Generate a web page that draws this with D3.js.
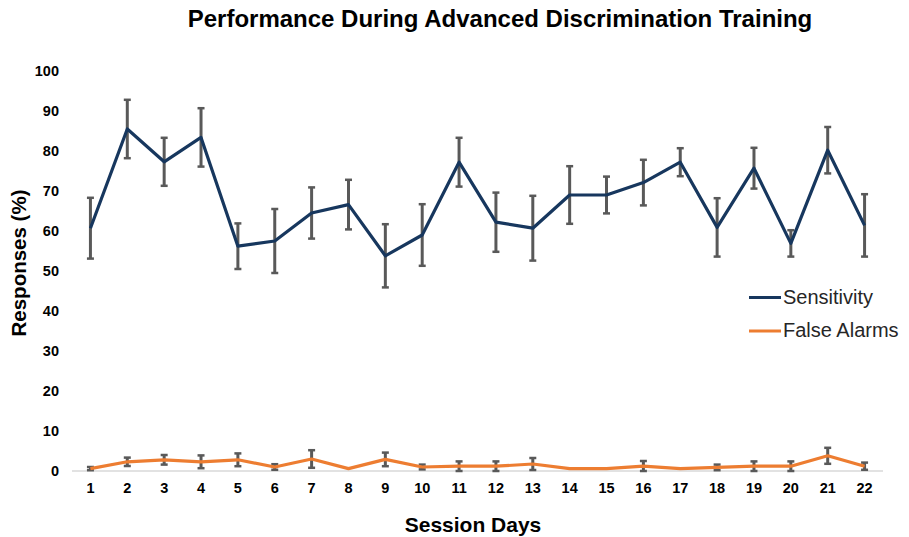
<!DOCTYPE html>
<html>
<head>
<meta charset="utf-8">
<script src="https://cdn.jsdelivr.net/npm/d3@7"></script>
<style>
  body { margin: 0; background: #fff; }
  text { font-family: "Liberation Sans", Arial, sans-serif; }
</style>
</head>
<body>
<div id="chart"></div>
<script>
// DATA
const days = ["1","2","3","4","5","6","7","8","9","10","11","12","13","14","15","16","17","18","19","20","21","22"];
const sensitivity = [60.7, 85.5, 77.3, 83.4, 56.2, 57.5, 64.5, 66.6, 53.8, 59.0, 77.2, 62.2, 60.7, 69.0, 69.0, 72.1, 77.2, 60.9, 75.7, 56.9, 80.2, 61.4];
const sensitivityErr = [7.6, 7.3, 6.0, 7.3, 5.7, 8.0, 6.4, 6.2, 7.9, 7.7, 6.1, 7.4, 8.1, 7.2, 4.6, 5.7, 3.5, 7.3, 5.1, 3.3, 5.8, 7.8];
const falseAlarms = [0.6, 2.3, 2.8, 2.3, 2.8, 1.0, 3.0, 0.6, 2.9, 1.0, 1.2, 1.2, 1.75, 0.6, 0.6, 1.2, 0.6, 0.9, 1.2, 1.2, 3.8, 1.2];
const falseAlarmsErr = [0.4, 1.05, 1.2, 1.6, 1.6, 0.7, 2.2, 0, 1.7, 0.6, 1.2, 1.2, 1.5, 0, 0, 1.3, 0, 0.7, 1.2, 1.2, 2.0, 0.9];
const yTicks = [0, 10, 20, 30, 40, 50, 60, 70, 80, 90, 100];

const W = 909, H = 537;
const margin = {top: 71, right: 26, bottom: 66, left: 72};
const width = W - margin.left - margin.right;
const height = H - margin.top - margin.bottom;

const svg = d3.select("#chart")
    .append("svg")
    .attr("width", W)
    .attr("height", H);

const g = svg.append("g")
    .attr("transform", "translate(" + margin.left + "," + margin.top + ")");

let xScale = d3.scaleBand()
    .domain(days)
    .range([0, width]);

let yScale = d3.scaleLinear()
    .domain([0, 100])
    .range([height, 0]);

// baseline
g.append("line")
    .attr("x1", 0).attr("x2", width)
    .attr("y1", yScale(0)).attr("y2", yScale(0))
    .attr("stroke", "#d9d9d9")
    .attr("stroke-width", 1.3);

// axes
let yAxis = d3.axisLeft(yScale).tickValues(yTicks).tickSize(0).tickPadding(13);
let yG = g.append("g").attr("class", "axis y-axis").call(yAxis);
yG.select(".domain").remove();
yG.selectAll("text")
    .attr("font-size", 14.5)
    .attr("font-weight", "bold")
    .attr("fill", "#000")
    .style("font-family", "'Liberation Sans', Arial, sans-serif");

let xAxis = d3.axisBottom(xScale).tickSize(0).tickPadding(12);
let xG = g.append("g")
    .attr("class", "axis x-axis")
    .attr("transform", `translate(0, ${height})`)
    .call(xAxis);
xG.select(".domain").remove();
xG.selectAll("text")
    .attr("font-size", 14.5)
    .attr("font-weight", "bold")
    .attr("fill", "#000")
    .style("font-family", "'Liberation Sans', Arial, sans-serif");

const xPos = d => xScale(d) + xScale.bandwidth() / 2;

function drawSeries(vals, errs, color) {
    const pts = days.map((d, i) => ({day: d, v: vals[i], e: errs[i]}));

    // error bars
    const eb = g.append("g");
    pts.forEach(p => {
        const lo = Math.max(0, p.v - p.e), hi = p.v + p.e;
        if (p.e <= 0) return;
        const x = xPos(p.day);
        eb.append("line")
            .attr("x1", x).attr("x2", x)
            .attr("y1", yScale(hi)).attr("y2", yScale(lo))
            .attr("stroke", "#595959").attr("stroke-width", 3);
        [hi, lo].forEach(v => {
            eb.append("line")
                .attr("x1", x - 3.5).attr("x2", x + 3.5)
                .attr("y1", yScale(v)).attr("y2", yScale(v))
                .attr("stroke", "#595959").attr("stroke-width", 2.5);
        });
    });

    const line = d3.line()
        .x(p => xPos(p.day))
        .y(p => yScale(p.v));

    g.append("path")
        .datum(pts)
        .attr("d", line)
        .attr("fill", "none")
        .attr("stroke", color)
        .attr("stroke-width", 3.2)
        .attr("stroke-linejoin", "round");
}

drawSeries(sensitivity, sensitivityErr, "#17375e");
drawSeries(falseAlarms, falseAlarmsErr, "#ed7d31");

// title
svg.append("text")
    .attr("x", 500).attr("y", 27)
    .attr("text-anchor", "middle")
    .attr("font-size", 24)
    .attr("font-weight", "bold")
    .text("Performance During Advanced Discrimination Training");

// axis titles
svg.append("text")
    .attr("x", 473).attr("y", 532)
    .attr("text-anchor", "middle")
    .attr("font-size", 21)
    .attr("font-weight", "bold")
    .text("Session Days");

svg.append("text")
    .attr("transform", "translate(26, 263) rotate(-90)")
    .attr("text-anchor", "middle")
    .attr("font-size", 20.5)
    .attr("font-weight", "bold")
    .text("Responses (%)");

// legend
const legend = [["Sensitivity", "#17375e"], ["False Alarms", "#ed7d31"]];
legend.forEach((l, i) => {
    const y = 297.5 + i * 33.5;
    svg.append("line")
        .attr("x1", 749).attr("x2", 781)
        .attr("y1", y).attr("y2", y)
        .attr("stroke", l[1]).attr("stroke-width", 3);
    svg.append("text")
        .attr("x", 783).attr("y", y + 6)
        .attr("font-size", 20)
        .attr("fill", "#262626")
        .text(l[0]);
});
</script>
</body>
</html>
